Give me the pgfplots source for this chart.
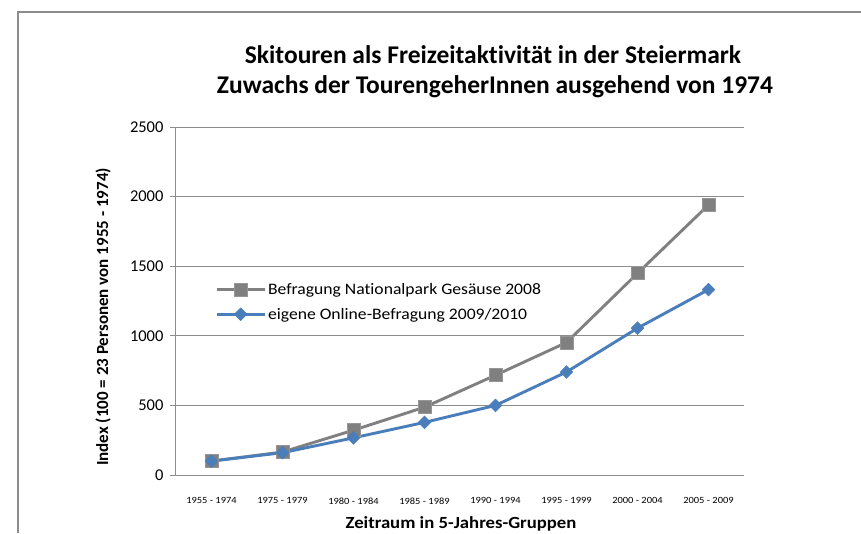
\documentclass[border=0pt]{standalone}
\usepackage{fontspec}
\setmainfont[Ligatures=NoCommon]{Carlito}
\newfontfamily\widefont[FakeStretch=1.1,Ligatures=NoCommon]{Carlito}
\usepackage{pgfplots}
\usetikzlibrary{calc}
\pgfplotsset{compat=1.18}
\definecolor{grayline}{RGB}{128,128,128}
\definecolor{blueline}{RGB}{74,126,187}
\definecolor{gridc}{RGB}{140,140,140}
\begin{document}
\begin{tikzpicture}[x=1pt,y=1pt]
\begin{axis}[
  scale only axis, width=568pt, height=348pt,
  xmin=-0.5, xmax=7.5, ymin=0, ymax=2500,
  ytick={0,500,1000,1500,2000,2500},
  xtick={0,...,7},
  xticklabels={1955 - 1974,1975 - 1979,1980 - 1984,1985 - 1989,1990 - 1994,1995 - 1999,2000 - 2004,2005 - 2009},
  xticklabel style={font=\widefont\fontsize{9.5}{11}\selectfont, yshift=-13pt},
  yticklabel style={font=\fontsize{16.5}{18}\selectfont, xshift=-3pt},
  /pgf/number format/assume math mode=true,
  /pgf/number format/1000 sep={},
  xtick style={draw=none},
  ytick style={gridc, line width=0.8},
  tick align=outside, major tick length=6pt,
  ymajorgrids, grid style={gridc, line width=0.8},
  axis x line*=bottom, axis y line*=left,
  axis line style={-, gridc, line width=1},
  legend style={draw=none, fill=none, at={(axis description cs:0.0687,0.557)}, anchor=north west,
    font=\widefont\fontsize{16}{19}\selectfont, row sep=8pt, inner sep=0pt},
  legend cell align=left,
  legend image code/.code={\draw[mark repeat=2,mark phase=2] plot coordinates {(0pt,0pt) (24pt,0pt) (48pt,0pt)};},
]
\addplot[grayline, line width=2.9, mark=square*, mark size=6.5, mark options={fill=grayline, draw={rgb,255:red,150;green,150;blue,150}, line width=0.6}]
  coordinates {(0,100) (1,165) (2,322) (3,487) (4,717) (5,952) (6,1449) (7,1940)};
\addlegendentry{Befragung Nationalpark Gesäuse 2008}
\addplot[blueline, line width=2.9, mark=square*, mark size=4.5, mark options={fill=blueline, draw=blueline, line width=0.5, rotate=45}]
  coordinates {(0,100) (1,160) (2,267) (3,378) (4,500) (5,740) (6,1055) (7,1332)};
\addlegendentry{eigene Online-Befragung 2009/2010}
\coordinate (O) at (rel axis cs:0,0);
\end{axis}
\pgfresetboundingbox
\begin{scope}[shift={($(O)+(-176pt,-58pt)$)}]
\useasboundingbox (0,0) rectangle (861,533);
\draw[gridc, line width=1.2] (18,0) -- (18,521) -- (861,521);
\node[font=\bfseries\fontsize{25.5}{30}\selectfont, anchor=base] at (493,469) {Skitouren als Freizeitaktivität in der Steiermark};
\node[font=\bfseries\fontsize{25.5}{30}\selectfont, anchor=base] at (495,439) {Zuwachs der TourengeherInnen ausgehend von 1974};
\node[font=\widefont\bfseries\fontsize{17}{20}\selectfont, anchor=base] at (461,5) {Zeitraum in 5-Jahres-Gruppen};
\node[font=\bfseries\fontsize{17}{20}\selectfont, rotate=90, anchor=center] at (103,216) {Index (100 = 23 Personen von 1955 - 1974)};
\end{scope}
\end{tikzpicture}
\end{document}
